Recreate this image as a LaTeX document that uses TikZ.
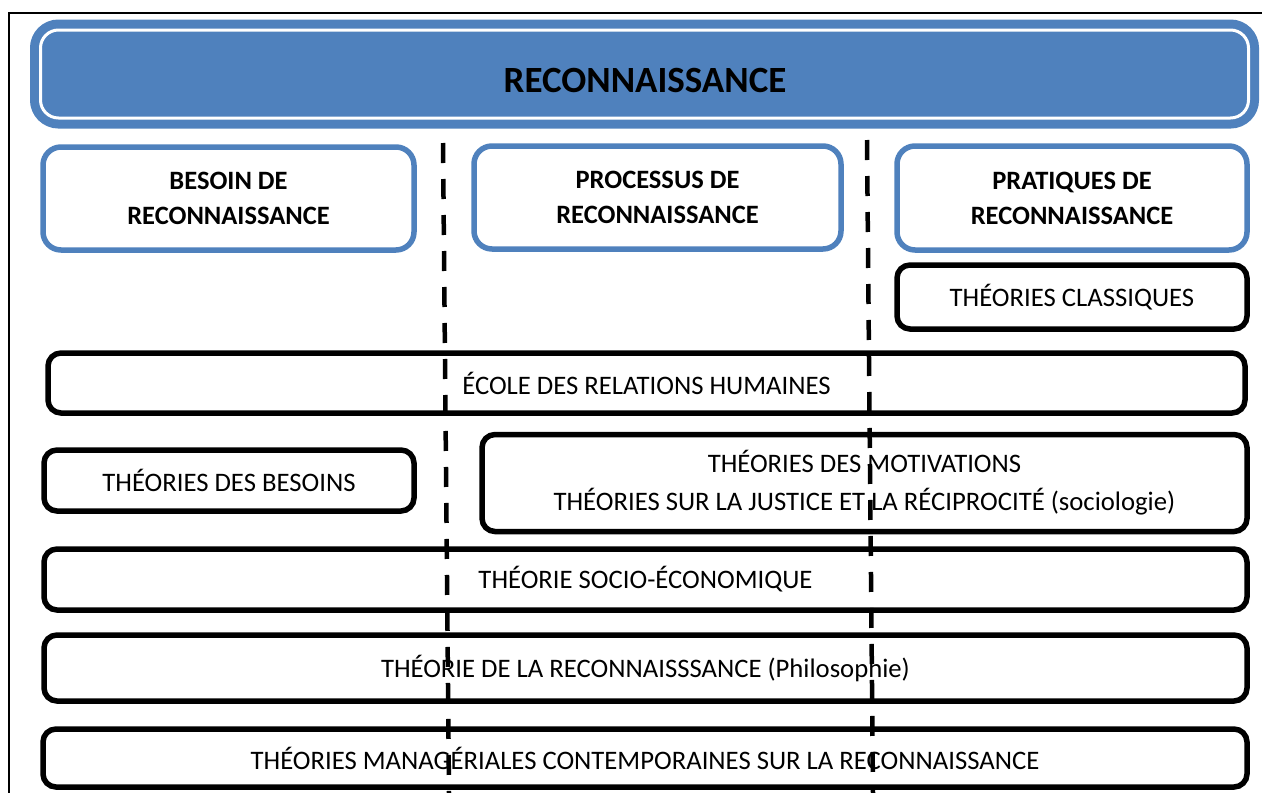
\documentclass[tikz,border=0pt]{standalone}
\usepackage{fontspec}
\setmainfont{Carlito}
\usepackage{xcolor}
\usetikzlibrary{positioning}
\definecolor{headblue}{HTML}{4F81BD}
\tikzset{
    banner/.style={
        rectangle, draw=headblue, fill=headblue, double=white,
        double distance=3pt, line width=9pt, rounded corners=18pt,
        minimum width=1208pt, minimum height=88pt,
    },
    title/.style={
        font=\fontsize{37}{44}\selectfont\bfseries, text=black,
    },
    column/.style={
        rectangle, draw=headblue, fill=white, line width=5.5pt,
        rounded corners=18pt, align=center, inner sep=0pt,
        font=\fontsize{26.5}{35}\selectfont\bfseries,
    },
    theory/.style={
        rectangle, draw=black, fill=white, line width=5.5pt,
        rounded corners=13pt, align=center, inner sep=0pt,
        font=\fontsize{26.7}{38}\selectfont,
    },
    divider/.style={line width=4.5pt, draw=black, dash pattern=on 20pt off 16pt},
}

\begin{document}
\begin{tikzpicture}[x=1pt, y=-1pt]
    \useasboundingbox (0,0) rectangle (1262,793);
    % page frame
    \draw[line width=2.5pt] (1262,13) -- (9,13) -- (9,793);

    \node[banner] (head) at (644.5,74) {};
    \node[title] (headtext) at (645,80) {RECONNAISSANCE};

    % the three columns
    \node[column, minimum width=371pt, minimum height=103pt] (besoin) at (228.5,198.5)
        {BESOIN DE\\RECONNAISSANCE};
    \node[column, minimum width=367pt, minimum height=103pt] (processus) at (657.5,197.5)
        {PROCESSUS DE\\RECONNAISSANCE};
    \node[column, minimum width=350pt, minimum height=104pt] (pratiques) at (1072,198)
        {PRATIQUES DE\\RECONNAISSANCE};

    % theories
    \node[theory, minimum width=350pt, minimum height=64pt] (classiques) at (1072,297)
        {THÉORIES CLASSIQUES};
    \node[theory, minimum width=1197pt, minimum height=60pt] (ecole) at (646.5,383)
        {ÉCOLE DES RELATIONS HUMAINES};
    \node[theory, minimum width=370pt, minimum height=61pt] (besoins) at (229,480.5)
        {THÉORIES DES BESOINS};
    \node[theory, minimum width=765pt, minimum height=97pt] (motivations) at (864.5,483)
        {THÉORIES DES MOTIVATIONS\\THÉORIES SUR LA JUSTICE ET LA RÉCIPROCITÉ (sociologie)};
    \node[theory, minimum width=1203pt, minimum height=61pt] (socio) at (645.5,579.5)
        {THÉORIE SOCIO-ÉCONOMIQUE};
    \node[theory, minimum width=1203pt, minimum height=66pt] (philo) at (645.5,668)
        {THÉORIE DE LA RECONNAISSSANCE (Philosophie)};
    \node[theory, minimum width=1204pt, minimum height=58pt] (manageriales) at (645,758)
        {THÉORIES MANAGÉRIALES CONTEMPORAINES SUR LA RECONNAISSANCE};

    % column separators
    \coordinate (sepAtop) at (443,143);
    \coordinate (sepAbot) at (449,793);
    \coordinate (sepBtop) at (867,140);
    \coordinate (sepBbot) at (873,793);
    \draw[divider] (sepAtop) -- (sepAbot);
    \draw[divider] (sepBtop) -- (sepBbot);
\end{tikzpicture}
\end{document}
